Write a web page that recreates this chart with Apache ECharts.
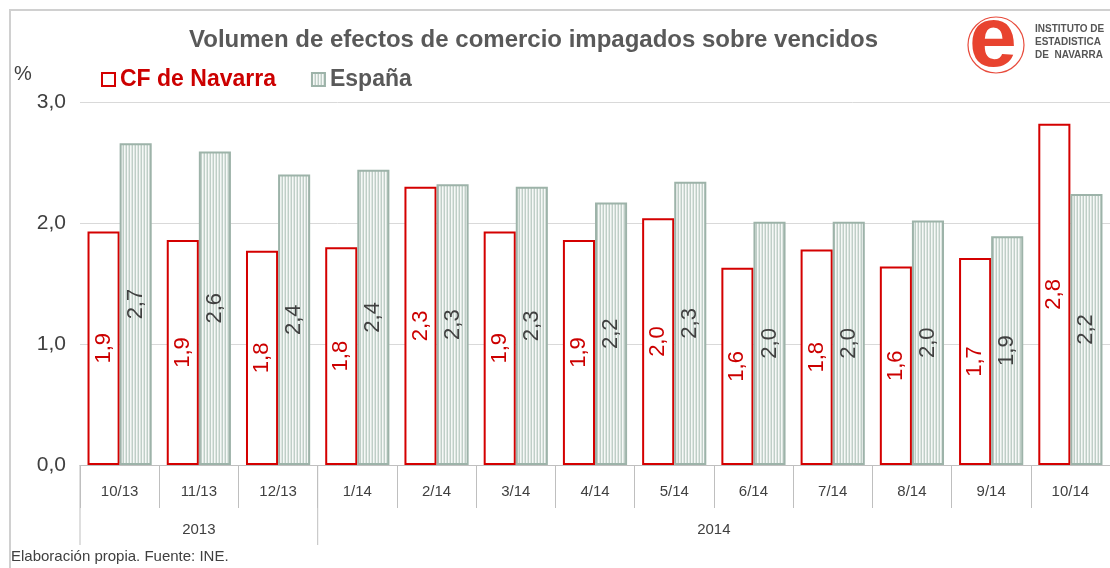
<!DOCTYPE html>
<html>
<head>
<meta charset="utf-8">
<script src="https://cdn.jsdelivr.net/npm/echarts@6/dist/echarts.min.js"></script>
<style>
  html, body { margin: 0; padding: 0; background: #fff; }
  #chart { width: 1110px; height: 568px; }
</style>
</head>
<body>
<div id="chart"></div>
<script>
// datos
const meses = ['10/13', '11/13', '12/13', '1/14', '2/14', '3/14', '4/14', '5/14', '6/14', '7/14', '8/14', '9/14', '10/14'];
const navarra = [1.93, 1.86, 1.77, 1.80, 2.30, 1.93, 1.86, 2.04, 1.63, 1.78, 1.64, 1.71, 2.82];
const espana = [2.66, 2.59, 2.40, 2.44, 2.32, 2.30, 2.17, 2.34, 2.01, 2.01, 2.02, 1.89, 2.24];
const yTicks = [0, 1, 2, 3];
const anios = [
    { nombre: '2013', desde: '10/13', hasta: '12/13' },
    { nombre: '2014', desde: '1/14', hasta: '10/14' }
];

const FONT = '"Liberation Sans", Arial, sans-serif';
const coma = v => v.toFixed(1).replace('.', ',');

// trama rayada vertical para España
const pat = document.createElement('canvas');
pat.width = 3; pat.height = 4;
const pctx = pat.getContext('2d');
['#bfcec7', '#f6f8f7', '#dde6e1'].forEach((c, i) => {
    pctx.fillStyle = c;
    pctx.fillRect(i, 0, 1, 4);
});

let myChart = echarts.init(document.getElementById('chart'));

myChart.setOption({
    backgroundColor: '#fff',
    animation: false,
    title: {
        text: 'Volumen de efectos de comercio impagados sobre vencidos',
        left: 184,
        top: 23,
        textStyle: { fontFamily: FONT, fontSize: 24, fontWeight: 'bold', color: '#595959' }
    },
    legend: {
        left: 96,
        top: 63,
        itemWidth: 13,
        itemHeight: 13,
        itemGap: 35,
        textStyle: { fontFamily: FONT, fontSize: 23, fontWeight: 'bold', color: '#595959' },
        data: [
            { name: 'CF de Navarra', icon: 'rect', textStyle: { color: '#cc0000' } },
            { name: 'España', icon: 'rect' }
        ]
    },
    grid: { left: 80, right: 0, top: 102, bottom: 103 },
    xAxis: {
        type: 'category',
        data: meses,
        axisLine: { lineStyle: { color: '#bfbfbf', width: 1 } },
        axisTick: { show: true, interval: 0, length: 43, lineStyle: { color: '#bfbfbf' } },
        axisLabel: { interval: 0, margin: 19, fontFamily: FONT, fontSize: 15, color: '#404040' }
    },
    yAxis: {
        type: 'value',
        min: yTicks[0],
        max: yTicks[yTicks.length - 1],
        interval: 1,
        axisLine: { show: false },
        axisTick: { show: false },
        axisLabel: { margin: 14, fontFamily: FONT, fontSize: 21, color: '#404040', formatter: coma },
        splitLine: { lineStyle: { color: '#d9d9d9', width: 1 } }
    },
    series: [
        {
            name: 'CF de Navarra',
            type: 'bar',
            data: navarra,
            barGap: '0%',
            barCategoryGap: '19%',
            itemStyle: { color: '#ffffff', borderColor: '#d40000', borderWidth: 2 },
            label: {
                show: true, position: 'inside', rotate: 90,
                fontFamily: FONT, fontSize: 22, color: '#cc0000',
                formatter: p => coma(p.value)
            }
        },
        {
            name: 'España',
            type: 'bar',
            data: espana,
            itemStyle: { color: { image: pat, repeat: 'repeat' }, borderColor: '#9db3a9', borderWidth: 2 },
            label: {
                show: true, position: 'inside', rotate: 90,
                fontFamily: FONT, fontSize: 22, color: '#404040',
                formatter: p => coma(p.value)
            }
        }
    ]
});

// elementos extra: años, separadores, logo, fuente, marco
const px = m => myChart.convertToPixel({ xAxisIndex: 0 }, m);
const paso = px(meses[1]) - px(meses[0]);
const y0 = myChart.convertToPixel({ yAxisIndex: 0 }, 0);
const extra = [];

anios.forEach(a => {
    const x1 = px(a.desde) - paso / 2;
    const x2 = px(a.hasta) + paso / 2;
    extra.push({
        type: 'line', shape: { x1: x1, y1: y0, x2: x1, y2: y0 + 80 },
        style: { stroke: '#bfbfbf', lineWidth: 1 }
    });
    extra.push({
        type: 'text', x: (x1 + x2) / 2, y: y0 + 65,
        style: { text: a.nombre, fontFamily: FONT, fontSize: 15, fill: '#404040', align: 'center', verticalAlign: 'middle' }
    });
});

extra.push(
    { type: 'rect', shape: { x: 10, y: 10, width: 1200, height: 700 },
      style: { fill: 'none', stroke: '#d0d0d0', lineWidth: 2 }, silent: true },
    { type: 'text', x: 14, y: 64,
      style: { text: '%', fontFamily: FONT, fontSize: 20, fill: '#404040' } },
    { type: 'text', x: 11, y: 549,
      style: { text: 'Elaboración propia. Fuente: INE.', fontFamily: FONT, fontSize: 15, fill: '#404040' } },
    // logo IEN
    { type: 'circle', shape: { cx: 996, cy: 45, r: 28 },
      style: { fill: 'none', stroke: '#e84c3d', lineWidth: 1.2 } },
    { type: 'text', x: 993, y: 42,
      style: { text: 'e', fontFamily: FONT, fontSize: 86, fontWeight: 'bold', fill: '#e8432f',
               align: 'center', verticalAlign: 'middle' } },
    { type: 'text', x: 1035, y: 23,
      style: { text: 'INSTITUTO DE\nESTADISTICA\nDE  NAVARRA', fontFamily: FONT, fontSize: 10,
               fontWeight: 'bold', fill: '#555', lineHeight: 13 } }
);

myChart.setOption({ graphic: extra });
</script>
</body>
</html>
